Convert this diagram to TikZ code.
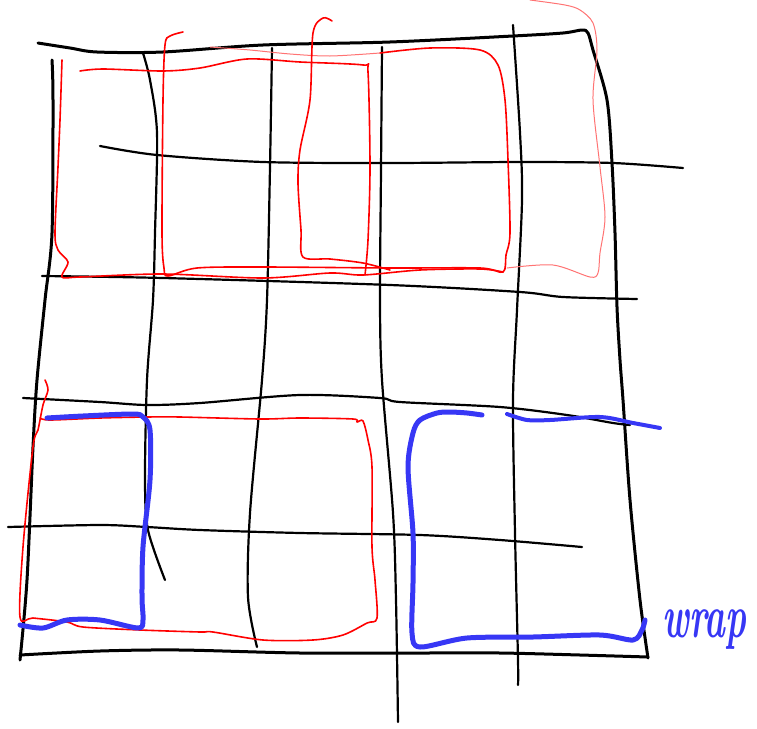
\documentclass[tikz,border=0pt]{standalone}
\usepackage{fontspec}
\definecolor{penblue}{RGB}{55,55,245}
\definecolor{penred}{RGB}{255,0,0}
\tikzset{
  blk/.style={draw=black,line width=3pt,line cap=round,line join=round},
  blkthin/.style={draw=black,line width=2.2pt,line cap=round,line join=round},
  redpen/.style={draw=penred,line width=1.6pt,line cap=round,line join=round},
  redpale/.style={draw=penred!55,line width=1pt,line cap=round,line join=round},
  bluepen/.style={draw=penblue,line width=5pt,line cap=round,line join=round},
  note/.style={text=penblue,font=\bfseries\itshape\fontsize{44}{44}\selectfont,inner sep=0pt}
}
\begin{document}
\begin{tikzpicture}[x=1pt,y=-1pt]
\useasboundingbox (0,0) rectangle (757,728);
% black frame
\draw[blk] plot[smooth,tension=0.5] coordinates {(38,43) (70,48) (97,52) (163,52) (263,45) (390,42) (513,36) (563,33) (582,30) (588,33) (593,50) (607,100) (612,163) (615,233) (617,307) (620,360) (623,400) (630,500) (640,600) (648,658)};
\draw[blk] plot[smooth,tension=0.5] coordinates {(52,60) (53,100) (52,233) (45,300) (37,380) (33,447) (27,580) (20,660)};
\draw[blk] plot[smooth,tension=0.5] coordinates {(20,655) (100,651) (180,650) (300,653) (420,653) (500,653) (580,655) (648,657)};
% black verticals
\draw[blkthin] plot[smooth,tension=0.5] coordinates {(143,53) (150,80) (157,133) (155,233) (153,300) (147,380) (145,480) (148,530) (165,580)};
\draw[blkthin] plot[smooth,tension=0.5] coordinates {(272,48) (270,167) (267,300) (262,380) (250,513) (248,597) (257,647)};
\draw[blkthin] plot[smooth,tension=0.5] coordinates {(382,47) (381,170) (380,300) (382,380) (393,513) (396,600) (398,722)};
\draw[blkthin] plot[smooth,tension=0.5] coordinates {(513,25) (520,133) (522,200) (517,310) (513,400) (515,533) (518,660) (518,685)};
% black horizontals
\draw[blkthin] plot[smooth,tension=0.5] coordinates {(100,146) (157,155) (263,162) (390,163) (520,162) (613,163) (683,168)};
\draw[blkthin] plot[smooth,tension=0.5] coordinates {(42,276) (163,278) (390,285) (520,292) (563,297) (637,299)};
\draw[blkthin] plot[smooth,tension=0.5] coordinates {(23,398) (100,402) (147,405) (200,403) (300,395) (380,398) (400,402) (500,407) (567,415) (613,423) (630,425)};
\draw[blkthin] plot[smooth,tension=0.5] coordinates {(8,527) (100,525) (147,527) (200,530) (300,533) (420,535) (500,540) (582,547)};
% red strokes top
\draw[redpen] plot[smooth,tension=0.5] coordinates {(62,60) (60,120) (58,167) (55,233) (58,250) (68,262) (62,277) (80,277) (163,274) (263,278) (330,273) (363,275) (420,270) (480,269) (503,272)};
\draw[redpen] plot[smooth,tension=0.5] coordinates {(80,71) (103,69) (163,71) (200,68) (247,59) (300,62) (363,65) (368,72) (370,167) (368,240) (365,275)};
\draw[redpen] plot[smooth,tension=0.5] coordinates {(183,32) (170,36) (165,45) (163,100) (162,233) (164,268) (168,276) (197,268) (263,267) (390,268) (480,268) (503,272) (506,255) (510,233) (508,160) (505,100) (498,65) (480,50) (430,48) (380,53)};
\draw[redpale] plot[smooth,tension=0.5] coordinates {(380,53) (330,56) (290,54) (250,50) (210,47)};
\draw[redpen] plot[smooth,tension=0.5] coordinates {(332,21) (323,18) (313,33) (310,100) (300,150) (298,183) (301,230) (303,257) (330,259) (363,263) (390,270)};
\draw[redpale] plot[smooth,tension=0.5] coordinates {(530,0) (565,5) (580,10) (593,23) (597,50) (593,100) (600,167) (605,217) (600,253) (598,273) (590,277) (553,265) (507,268)};
% red stroke bottom-left
\draw[redpen] plot[smooth,tension=0.5] coordinates {(45,380) (48,390) (43,405) (38,430) (33,447) (23,547) (20,617) (33,618) (67,622) (83,627) (140,630) (200,632) (213,632) (263,640) (313,640) (343,635) (367,623) (377,618) (375,580) (372,547) (372,467) (368,440) (363,421) (357,422) (353,419) (300,418) (260,419) (180,417) (147,417) (100,418) (50,420) (40,418)};
% blue strokes
\draw[bluepen] plot[smooth,tension=0.5] coordinates {(47,418) (83,416) (133,414) (143,417) (150,430) (150,480) (143,547) (142,597) (143,620) (138,628) (100,620) (67,620) (43,628) (20,625)};
\draw[bluepen] plot[smooth,tension=0.5] coordinates {(482,415) (467,413) (450,412) (437,413) (420,420) (413,433) (408,467) (413,533) (413,583) (412,633) (420,647) (467,638) (533,637) (600,635) (633,640) (642,630) (645,620)};
\draw[bluepen,line width=4pt] plot[smooth,tension=0.5] coordinates {(507,414) (527,420) (550,420) (600,417) (633,423) (660,428)};
% label
\node[note,anchor=base west,xscale=0.8,yscale=1.4,transform shape] (wrap) at (662,637) {wrap};
\end{tikzpicture}
\end{document}
